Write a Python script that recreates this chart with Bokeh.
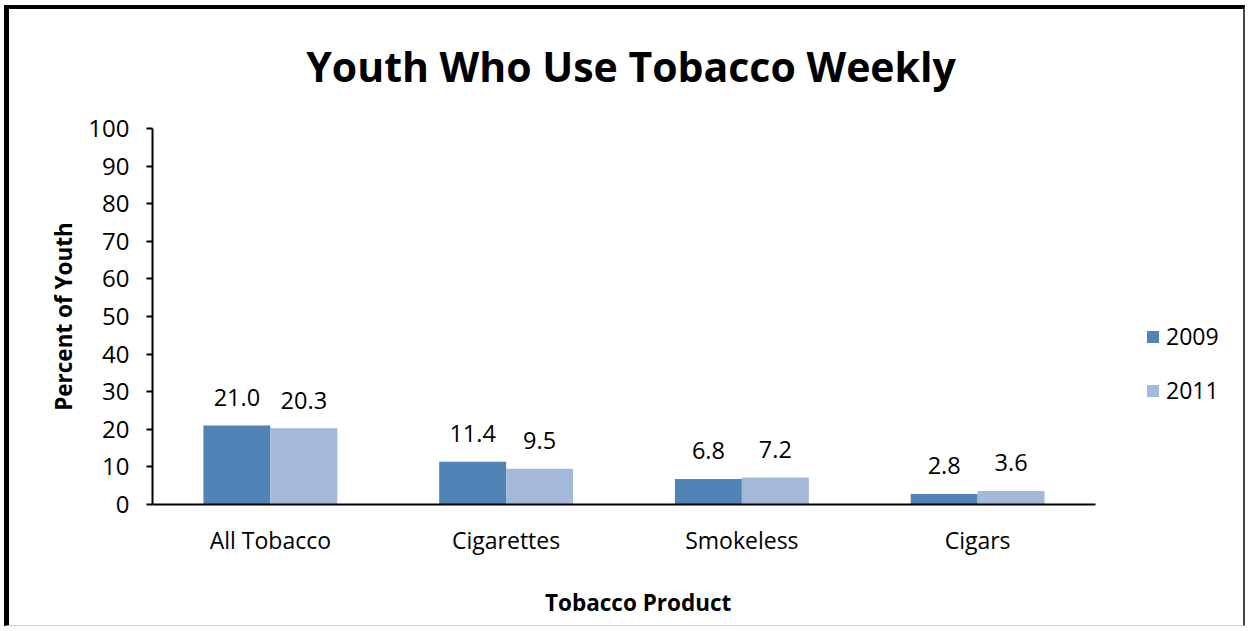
from bokeh.plotting import figure
from bokeh.models import (ColumnDataSource, LabelSet, Legend, LegendItem, Range1d,
                          LinearAxis, FixedTicker)
from bokeh.core.properties import value
from bokeh.embed import file_html
from bokeh.resources import INLINE

categories = ["All Tobacco", "Cigarettes", "Smokeless", "Cigars"]
years = ["2009", "2011"]
values_2009 = [21.0, 11.4, 6.8, 2.8]
values_2011 = [20.3, 9.5, 7.2, 3.6]
y_ticks = [0, 10, 20, 30, 40, 50, 60, 70, 80, 90, 100]
colors = ["#5283B6", "#A4B8D9"]
chart_title = "Youth Who Use Tobacco Weekly"
x_title = "Tobacco Product"
y_title = "Percent of Youth"

FONT = "Open Sans"

# layout (pixels)
W, H = 1241, 621
ML, MT, MB, MR = 143, 119, 126, 0
CAT_PX = 943  # width of the category area inside the frame
frame_w = W - ML - MR
x_end = len(categories) * frame_w / CAT_PX
xtitle_pos = round(len(categories) * 485 / CAT_PX, 2)    # x-axis title centre
title_pos = round(len(categories) * 477.5 / CAT_PX, 2)   # chart title centre

bw = 0.284
centers = [i + 0.5 for i in range(len(categories))]
src = ColumnDataSource(dict(
    x1=[c - bw / 2 for c in centers],
    x2=[c + bw / 2 for c in centers],
    v2009=values_2009,
    v2011=values_2011,
    l2009=[f"{v:.1f}" for v in values_2009],
    l2011=[f"{v:.1f}" for v in values_2011],
))

p = figure(width=W, height=H, x_range=Range1d(0, x_end), y_range=Range1d(0, 100),
           output_backend="svg", toolbar_location=None,
           min_border_left=ML, min_border_right=MR, min_border_top=MT, min_border_bottom=MB)
p.styles = {"margin": "5px 0px 0px 4px",
            "border-left": "5px solid black", "border-top": "4px solid black",
            "border-right": "2px solid #444444", "border-bottom": "1px solid #d0d0d0"}

r1 = p.vbar(x="x1", top="v2009", width=bw, source=src, fill_color=colors[0], line_color=None)
r2 = p.vbar(x="x2", top="v2011", width=bw, source=src, fill_color=colors[1], line_color=None)

for xc, col, lab in (("x1", "v2009", "l2009"), ("x2", "v2011", "l2011")):
    p.add_layout(LabelSet(x=xc, y=col, text=lab, source=src,
                          text_align="center", text_baseline="middle", y_offset=28,
                          text_font=value(FONT), text_font_size="23.5px", text_color="black"))

p.grid.visible = False
p.outline_line_color = None
p.background_fill_color = "white"
p.border_fill_color = "white"

p.yaxis.ticker = y_ticks
p.yaxis.axis_line_color = "black"
p.yaxis.axis_line_width = 2
p.yaxis.major_tick_line_color = "black"
p.yaxis.major_tick_line_width = 2
p.yaxis.major_tick_out = 6
p.yaxis.major_tick_in = 0
p.yaxis.minor_tick_line_color = None
p.yaxis.major_label_text_font = FONT
p.yaxis.major_label_text_font_size = "24px"
p.yaxis.major_label_text_color = "black"
p.yaxis.major_label_standoff = 17
p.yaxis.axis_label = y_title
p.yaxis.axis_label_text_font = FONT
p.yaxis.axis_label_text_font_size = "22.5px"
p.yaxis.axis_label_text_font_style = "bold"
p.yaxis.axis_label_text_color = "black"
p.yaxis.axis_label_standoff = 6

p.xaxis.ticker = centers
p.xaxis.major_label_overrides = {c: name for c, name in zip(centers, categories)}
p.xaxis.bounds = (0, len(categories))
p.xaxis.axis_line_color = "black"
p.xaxis.axis_line_width = 2
p.xaxis.major_tick_line_color = None
p.xaxis.minor_tick_line_color = None
p.xaxis.major_label_text_font = FONT
p.xaxis.major_label_text_font_size = "23px"
p.xaxis.major_label_text_color = "black"
p.xaxis.major_label_standoff = 13


def text_axis(pos, text, size, standoff):
    return LinearAxis(ticker=FixedTicker(ticks=[pos]),
                      major_label_overrides={pos: text},
                      axis_line_color=None, major_tick_line_color=None,
                      minor_tick_line_color=None, major_tick_out=0, major_tick_in=0,
                      major_label_standoff=standoff,
                      major_label_text_font=FONT, major_label_text_font_size=size,
                      major_label_text_font_style="bold", major_label_text_color="black")


# x-axis title under the category area, chart title above the frame
p.add_layout(text_axis(xtitle_pos, x_title, "22.5px", 28), "below")
p.add_layout(text_axis(title_pos, chart_title, "41px", 35), "above")

legend = Legend(items=[LegendItem(label=years[0], renderers=[r1]),
                       LegendItem(label=years[1], renderers=[r2])],
                location=(993, 98), orientation="vertical",
                glyph_width=15, glyph_height=15, label_standoff=6,
                spacing=22, padding=0, margin=0,
                label_text_font=FONT, label_text_font_size="23px", label_text_color="black",
                border_line_color=None, background_fill_alpha=0)
p.add_layout(legend, "center")

open("out.html", "w").write(file_html(p, INLINE))
